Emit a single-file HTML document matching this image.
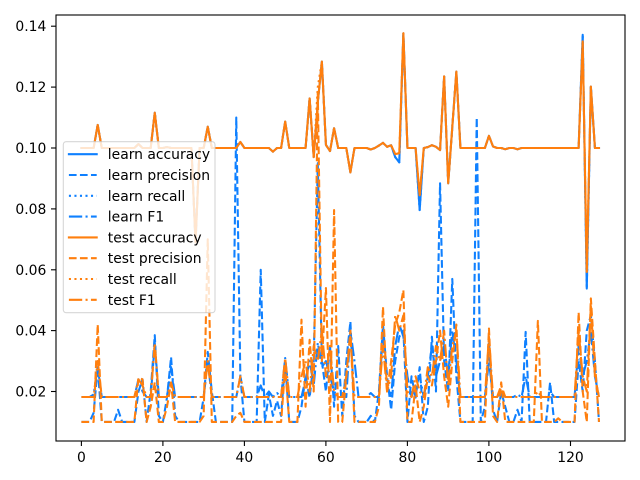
<!DOCTYPE html>
<html><head><meta charset="utf-8"><style>body{margin:0;background:#fff}svg{display:block}</style></head><body>
<svg width="640" height="480" viewBox="0 0 640 480" xmlns="http://www.w3.org/2000/svg" font-family="'DejaVu Sans','Liberation Sans',sans-serif" font-size="13.9">
<rect width="640" height="480" fill="#fff"/>
<defs><clipPath id="c"><rect x="56" y="15" width="569" height="426"/></clipPath></defs>
<g clip-path="url(#c)">
<g transform="matrix(4.0756 0 0 -3.044 81.4 452.4)" fill="none" stroke-width="2.08" stroke-linejoin="round">
<polyline vector-effect="non-scaling-stroke" stroke="#0f80ff" stroke-linecap="square" points="0,100 3,100 4,107.6 5,100 13,100 14,101.3 15,100 17,100 18,111.6 19,100 20,100 21,100.3 22,100 27,100 28,69 29,100 30,100 31,107 32,100 38,100 39,102 40,100 46,100 47,98.8 48,100 49,100 50,108.7 51,100 55,100 56,116.3 57,97 58,115 59,128.4 60,101 61,99 62,106.5 63,100 65,100 66,92 67,100 70,100 71,99.5 72,100 73,100.8 74,101.7 75,100.4 76,100.9 77,97 78,95.3 79,137.7 80,100 82,100 83,79.6 84,100 85,100.3 86,100.9 87,100.4 88,99.3 89,123.5 90,88.4 91,106.8 92,125.1 93,100 99,100 100,104 101,100.5 102,100 103,100 104,99.6 105,100 106,100 107,99.6 108,100 122,100 123,137.2 124,53.8 125,120.2 126,100 127,100"/>
<polyline vector-effect="non-scaling-stroke" stroke="#0f80ff" stroke-dasharray="7.7 3.33" points="0,10 2,10 3,13 4,28 5,10 8,10 9,14 10,10 13,10 14,20 15,24 16,10 17,20 18,38.5 19,12 20,10 21,18 22,31.3 23,12 24,10 29,10 30,18 31,33 32,20 33,10 37,10 38,110 39,25 40,10 43,10 44,60 45,10 46,19 47,12 48,17 49,12 50,30 51,10 53,10 54,15 55,25 56,18 57,30 58,95 59,30 60,20 61,35 62,15 63,35 64,12 65,30 66,43 67,12 68,10 70,10 71,12 72,10 73,20 74,42 75,25 76,14 77,30 78,38 79,40 80,10 81,25 82,18 83,28 84,10 85,15 86,38 87,20 88,88.4 89,30 90,20 91,57 92,25 93,10 96,10 97,110 98,10 99,15 100,36 101,14 102,10 103,20 104,15 105,10 106,10 107,14 108,10 109,39.6 110,10 114,10 115,23 116,10 121,10 122,30 123,20 124,40 125,45 126,30 127,10"/>
<polyline vector-effect="non-scaling-stroke" stroke="#0f80ff" stroke-dasharray="2.08 3.44" points="0,100 3,100 4,107.6 5,100 13,100 14,101.3 15,100 17,100 18,111.6 19,100 20,100 21,100.3 22,100 27,100 28,69 29,100 30,100 31,107 32,100 38,100 39,102 40,100 46,100 47,98.8 48,100 49,100 50,108.7 51,100 55,100 56,116.3 57,97 58,115 59,128.4 60,101 61,99 62,106.5 63,100 65,100 66,92 67,100 70,100 71,99.5 72,100 73,100.8 74,101.7 75,100.4 76,100.9 77,97 78,95.3 79,137.7 80,100 82,100 83,79.6 84,100 85,100.3 86,100.9 87,100.4 88,99.3 89,123.5 90,88.4 91,106.8 92,125.1 93,100 99,100 100,104 101,100.5 102,100 103,100 104,99.6 105,100 106,100 107,99.6 108,100 122,100 123,137.2 124,53.8 125,120.2 126,100 127,100"/>
<polyline vector-effect="non-scaling-stroke" stroke="#0f80ff" stroke-dasharray="13.3 3.33 2.08 3.33" points="0,18.2 2,18.2 3,19 4,28 5,18.2 13,18.2 14,24 15,20 16,18.2 17,18.2 18,36 19,18.2 21,18.2 22,28 23,18.2 30,18.2 31,30 32,18.2 38,18.2 39,25 40,18.2 43,18.2 44,22 45,18.2 46,20 47,18.2 48,19.5 49,18.2 50,31 51,18.2 54,18.2 55,24 56,30 57,22 58,36 59,28 60,30 61,25 62,20 63,18.2 65,18.2 66,40 67,30 68,18.2 70,18.2 71,19.5 72,18.2 73,18.2 74,40 75,22 76,18.2 77,35 78,42 79,38 80,25 81,18.2 82,22 83,25 84,18.2 85,25 86,35 87,25 88,30 89,35 90,25 91,40 92,30 93,18.2 99,18.2 100,30 101,18.2 102,18.2 103,20 104,18.2 106,18.2 107,19 108,18.2 109,25 110,18.2 114,18.2 115,20 116,18.2 121,18.2 122,35 123,25 124,30 125,40 126,25 127,18.2"/>
<polyline vector-effect="non-scaling-stroke" stroke="#ff7f0e" stroke-linecap="square" points="0,100 3,100 4,107.6 5,100 13,100 14,101.3 15,100 17,100 18,111.6 19,100 20,100 21,100.3 22,100 27,100 28,69 29,100 30,100 31,107 32,100 38,100 39,102 40,100 46,100 47,98.8 48,100 49,100 50,108.7 51,100 55,100 56,116.3 57,97 58,115 59,128.4 60,101 61,99 62,106.5 63,100 65,100 66,92 67,100 70,100 71,99.5 72,100 73,100.8 74,101.7 75,100.4 76,100.9 77,98 78,98.3 79,137.7 80,100 82,100 83,84.5 84,100 85,100.3 86,100.9 87,100.4 88,99.3 89,123.5 90,88.4 91,106.8 92,125.1 93,100 99,100 100,104 101,100.5 102,100 103,100 104,99.6 105,100 106,100 107,99.6 108,100 122,100 123,135 124,59.3 125,120.2 126,100 127,100"/>
<polyline vector-effect="non-scaling-stroke" stroke="#ff7f0e" stroke-dasharray="7.7 3.33" points="0,10 3,10 4,42 5,10 13,10 14,24.5 15,24 16,10 17,15 18,23 19,10 20,10 21,15 22,22.7 23,10 29,10 30,12 31,70 32,10 37,10 38,12 39,13 40,10 49,10 50,28 51,10 53,10 54,43.6 55,15 56,37 57,20 58,118 59,30 60,54 61,10 62,79.6 63,10 64,10 65,25 66,40 67,10 72,10 73,15 74,47.8 75,20 76,30 77,42 78,46 79,53.3 80,10 81,10 82,22 83,10 84,15 85,25 86,22 87,30 88,40 89,25 90,15 91,30 92,42 93,10 99,10 100,40.7 101,12 102,10 103,23 104,10 111,10 112,43.2 113,10 116,10 117,11.2 118,10 121,10 122,46 123,20 124,10 125,50.6 126,30 127,10"/>
<polyline vector-effect="non-scaling-stroke" stroke="#ff7f0e" stroke-dasharray="2.08 3.44" points="0,100 3,100 4,107.6 5,100 13,100 14,101.3 15,100 17,100 18,111.6 19,100 20,100 21,100.3 22,100 27,100 28,69 29,100 30,100 31,107 32,100 38,100 39,102 40,100 46,100 47,98.8 48,100 49,100 50,108.7 51,100 55,100 56,116.3 57,97 58,120 59,128.4 60,101 61,99 62,106.5 63,100 65,100 66,92 67,100 70,100 71,99.5 72,100 73,100.8 74,101.7 75,100.4 76,100.9 77,98 78,98.3 79,137.7 80,100 82,100 83,84.5 84,100 85,100.3 86,100.9 87,100.4 88,99.3 89,123.5 90,88.4 91,106.8 92,125.1 93,100 99,100 100,104 101,100.5 102,100 103,100 104,99.6 105,100 106,100 107,99.6 108,100 122,100 123,135 124,59.3 125,120.2 126,100 127,100"/>
<polyline vector-effect="non-scaling-stroke" stroke="#ff7f0e" stroke-dasharray="13.3 3.33 2.08 3.33" points="0,18.2 3,18.2 4,30 5,18.2 13,18.2 14,24 15,22 16,18.2 17,18.2 18,36 19,18.2 21,18.2 22,23 23,18.2 30,18.2 31,30 32,18.2 38,18.2 39,25 40,18.2 49,18.2 50,31 51,18.2 53,18.2 54,25 55,30 56,20 57,35 58,30 59,40 60,25 61,35 62,20 63,18.2 64,18.2 65,25 66,38 67,18.2 73,18.2 74,35 75,20 76,25 77,45 78,40 79,45 80,20 81,18.2 82,25 83,20 84,18.2 85,28 86,25 87,35 88,30 89,40 90,22 91,35 92,40 93,18.2 99,18.2 100,38 101,18.2 102,18.2 103,22 104,18.2 111,18.2 112,20 113,18.2 121,18.2 122,40 123,25 124,20 125,48 126,25 127,18.2"/>
</g></g>
<rect x="56" y="15" width="569" height="426" fill="none" stroke="#000" stroke-width="1.1"/>
<g stroke="#000" stroke-width="1.1">
<line x1="81.4" y1="441" x2="81.4" y2="446"/>
<line x1="162.9" y1="441" x2="162.9" y2="446"/>
<line x1="244.4" y1="441" x2="244.4" y2="446"/>
<line x1="325.9" y1="441" x2="325.9" y2="446"/>
<line x1="407.4" y1="441" x2="407.4" y2="446"/>
<line x1="488.9" y1="441" x2="488.9" y2="446"/>
<line x1="570.5" y1="441" x2="570.5" y2="446"/>
<line x1="51" y1="391.5" x2="56" y2="391.5"/>
<line x1="51" y1="330.6" x2="56" y2="330.6"/>
<line x1="51" y1="269.8" x2="56" y2="269.8"/>
<line x1="51" y1="208.9" x2="56" y2="208.9"/>
<line x1="51" y1="148" x2="56" y2="148"/>
<line x1="51" y1="87.1" x2="56" y2="87.1"/>
<line x1="51" y1="26.2" x2="56" y2="26.2"/>
</g>
<g fill="#000" text-anchor="middle">
<text x="81.4" y="462">0</text>
<text x="162.9" y="462">20</text>
<text x="244.4" y="462">40</text>
<text x="325.9" y="462">60</text>
<text x="407.4" y="462">80</text>
<text x="488.9" y="462">100</text>
<text x="570.5" y="462">120</text>
</g>
<g fill="#000" text-anchor="end">
<text x="46.3" y="396.5">0.02</text>
<text x="46.3" y="335.6">0.04</text>
<text x="46.3" y="274.8">0.06</text>
<text x="46.3" y="213.9">0.08</text>
<text x="46.3" y="153">0.10</text>
<text x="46.3" y="92.1">0.12</text>
<text x="46.3" y="31.2">0.14</text>
</g>
<rect x="63.3" y="141.7" width="151.7" height="171" rx="2.8" fill="#fff" fill-opacity="0.8" stroke="#cccccc" stroke-opacity="0.8" stroke-width="1.1"/>
<g fill="none" stroke-width="2.08">
<line x1="68.9" y1="154.2" x2="96.7" y2="154.2" stroke="#0f80ff" stroke-linecap="square"/>
<line x1="68.9" y1="175" x2="96.7" y2="175" stroke="#0f80ff" stroke-dasharray="7.7 3.33"/>
<line x1="68.9" y1="195.8" x2="96.7" y2="195.8" stroke="#0f80ff" stroke-dasharray="2.08 3.44"/>
<line x1="68.9" y1="216.6" x2="96.7" y2="216.6" stroke="#0f80ff" stroke-dasharray="13.3 3.33 2.08 3.33"/>
<line x1="68.9" y1="237.4" x2="96.7" y2="237.4" stroke="#ff7f0e" stroke-linecap="square"/>
<line x1="68.9" y1="258.2" x2="96.7" y2="258.2" stroke="#ff7f0e" stroke-dasharray="7.7 3.33"/>
<line x1="68.9" y1="279" x2="96.7" y2="279" stroke="#ff7f0e" stroke-dasharray="2.08 3.44"/>
<line x1="68.9" y1="299.8" x2="96.7" y2="299.8" stroke="#ff7f0e" stroke-dasharray="13.3 3.33 2.08 3.33"/>
</g>
<g fill="#000">
<text x="107.8" y="159.2">learn accuracy</text>
<text x="107.8" y="180">learn precision</text>
<text x="107.8" y="200.8">learn recall</text>
<text x="107.8" y="221.6">learn F1</text>
<text x="107.8" y="242.4">test accuracy</text>
<text x="107.8" y="263.2">test precision</text>
<text x="107.8" y="284">test recall</text>
<text x="107.8" y="304.8">test F1</text>
</g>
</svg>
</body></html>
